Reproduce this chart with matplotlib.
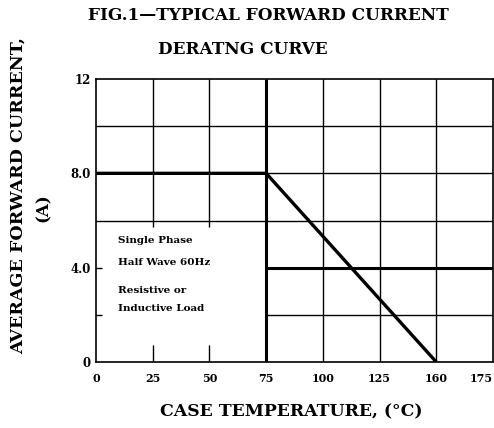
import numpy as np
import matplotlib.pyplot as plt

# derating curve: case temperature (C) vs average forward current (A)
temp = [0, 75, 150]
current = [8.0, 8.0, 0.0]

xticks = [0, 25, 50, 75, 100, 125, 150, 175]
xticklabels = ['0', '25', '50', '75', '100', '125', '160', '175']
yticks = [0, 4, 8, 12]
yticklabels = ['0', '4.0', '8.0', '12']

box_lines = ['Single Phase', 'Half Wave 60Hz', 'Resistive or', 'Inductive Load']
box_y = [5.15, 4.2, 3.05, 2.25]

plt.rcParams['font.family'] = ['DejaVu Serif']
plt.rcParams['font.weight'] = 'bold'

fig = plt.figure(figsize=(4.94, 4.28), dpi=100)
ax = fig.add_axes([96/494, 66/428, 397/494, 283/428])
ax.set_xlim(0, 175)
ax.set_ylim(0, 12)

grid_kw = dict(color='black', lw=1.0)
# full height vertical grid lines
ax.vlines([100, 125, 150], 0, 12, **grid_kw)
# short ones above the note box
ax.vlines([25, 50], 6, 12, **grid_kw)
ax.vlines([25, 50], 0, 0.72, **grid_kw)
ax.vlines([25, 50], 5.72, 6, **grid_kw)
# horizontal grid
ax.hlines([10, 6], 0, 175, **grid_kw)
ax.hlines([8, 2], 75, 175, **grid_kw)
ax.hlines([2, 4], 0, 2.6, **grid_kw)
# heavy lines
ax.vlines(75, 0, 12, color='black', lw=2.2)
ax.hlines(4, 75, 175, color='black', lw=2.2)
ax.plot(temp, current, color='black', lw=2.4, solid_capstyle='butt')

for s in ax.spines.values():
    s.set_linewidth(1.2)

ax.set_xticks(xticks)
ax.set_xticklabels(xticklabels, fontsize=8)
ax.get_xticklabels()[-1].set_horizontalalignment('right')
ax.set_yticks(yticks)
ax.set_yticklabels(yticklabels, fontsize=8.5)
ax.tick_params(axis='x', length=0, pad=8)
ax.tick_params(axis='y', length=0, pad=4)

for txt, yy in zip(box_lines, box_y):
    ax.text(9.5, yy, txt, fontsize=7.5, va='center', ha='left')

fig.text(268/494, 1 - 15/428, 'FIG.1\u2014TYPICAL FORWARD CURRENT',
         ha='center', va='center', fontsize=12.2)
fig.text(243/494, 1 - 50/428, 'DERATNG CURVE', ha='center', va='center', fontsize=12.2)
fig.text(18/494, 1 - 196/428, 'AVERAGE FORWARD CURRENT,', rotation=90,
         ha='center', va='center', fontsize=12.6)
fig.text(43/494, 1 - 208/428, '(A)', rotation=90, ha='center', va='center', fontsize=12)
fig.text(291/494, 1 - 412/428, 'CASE TEMPERATURE, (\u00b0C)', ha='center', va='center',
         fontsize=12.4)

fig.savefig('out.png', dpi=100)
